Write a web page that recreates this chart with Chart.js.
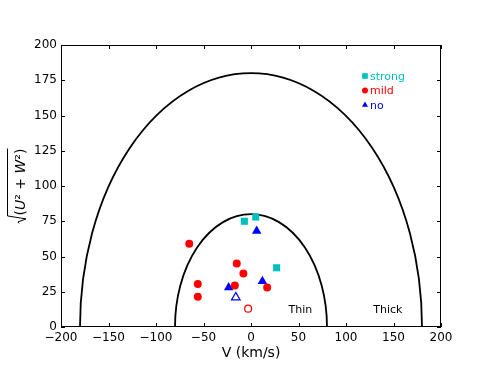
<!DOCTYPE html>
<html>
<head>
<meta charset="utf-8">
<script src="https://cdn.jsdelivr.net/npm/chart.js@4.4.0/dist/chart.umd.min.js"></script>
<style>
    html, body { margin: 0; padding: 0; background: #fff; }
</style>
</head>
<body>
<canvas id="toomreChart" width="490" height="368"></canvas>
<script>
// Values: V (km/s) against sqrt(U^2 + W^2)
const strongV = [-7, 5, 27];
const strongR = [75, 78, 42];

const mildV = [-65, -15, -8, -56, -56, -17, 17];
const mildR = [59, 45, 38, 30.5, 21.5, 29.5, 28];
const mildOpenV = [-3];
const mildOpenR = [13];

const noV = [6, -23.5, 12];
const noR = [68, 28, 32.5];
const noOpenV = [-16];
const noOpenR = [21];

// Thin / thick disc boundaries (total velocity, km/s)
const boundaryRadii = [80, 180];
const regionLabels = ['Thin', 'Thick'];
const regionLabelV = [52, 144];
const regionLabelR = [12, 12];

const xTickValues = [-200, -150, -100, -50, 0, 50, 100, 150, 200];
const yTickValues = [0, 25, 50, 75, 100, 125, 150, 175, 200];

const FONT = '"DejaVu Sans", sans-serif';

function toPoints(xs, ys) {
    return xs.map((v, i) => ({ x: v, y: ys[i] }));
}

// matplotlib style minus sign
function fmtTick(v) {
    return v < 0 ? '\u2212' + Math.abs(v) : String(v);
}

/**
 * Plugin: draws the boundary curves, the box with inward ticks,
 * the small coloured legend and the sqrt(U^2+W^2) axis title
 */
const toomrePlugin = {
    id: 'toomre',
    beforeDatasetsDraw(chart) {
        const { ctx, chartArea: a, scales: { x, y } } = chart;
        ctx.save();
        ctx.beginPath();
        ctx.rect(a.left, a.top, a.width, a.height);
        ctx.clip();

        const cx = x.getPixelForValue(0);
        const cy = y.getPixelForValue(0);
        ctx.strokeStyle = '#000';
        ctx.lineWidth = 1.8;
        boundaryRadii.forEach(r => {
            const rx = x.getPixelForValue(r) - cx;
            const ry = cy - y.getPixelForValue(r);
            ctx.beginPath();
            ctx.ellipse(cx, cy, rx, ry, 0, Math.PI, 2 * Math.PI);
            ctx.stroke();
        });

        ctx.fillStyle = '#000';
        ctx.font = '11px ' + FONT;
        ctx.textAlign = 'center';
        ctx.textBaseline = 'middle';
        regionLabels.forEach((t, i) => {
            ctx.fillText(t, x.getPixelForValue(regionLabelV[i]), y.getPixelForValue(regionLabelR[i]));
        });
        ctx.restore();
    },
    afterDraw(chart) {
        const { ctx, chartArea: a, scales: { x, y } } = chart;
        ctx.save();

        // box
        ctx.strokeStyle = '#000';
        ctx.lineWidth = 1;
        ctx.strokeRect(a.left + 0.5, a.top + 0.5, a.width - 1, a.height - 1);

        // inward ticks on all four sides
        const tl = 4;
        ctx.beginPath();
        xTickValues.forEach(v => {
            const px = Math.round(x.getPixelForValue(v)) + 0.5;
            ctx.moveTo(px, a.bottom); ctx.lineTo(px, a.bottom - tl);
            ctx.moveTo(px, a.top); ctx.lineTo(px, a.top + tl);
        });
        yTickValues.forEach(v => {
            const py = Math.round(y.getPixelForValue(v)) + 0.5;
            ctx.moveTo(a.left, py); ctx.lineTo(a.left + tl, py);
            ctx.moveTo(a.right, py); ctx.lineTo(a.right - tl, py);
        });
        ctx.stroke();

        // legend: marker + coloured text, top right of the plot
        ctx.font = '11px ' + FONT;
        ctx.textAlign = 'left';
        ctx.textBaseline = 'middle';
        const legendSets = chart.data.datasets.filter(d => d.inLegend);
        legendSets.forEach((d, i) => {
            const mx = a.right - 76;
            const my = a.top + 31 + i * 14.5;
            ctx.fillStyle = d.borderColor;
            ctx.strokeStyle = d.borderColor;
            Chart.helpers.drawPoint(ctx, {
                pointStyle: d.pointStyle,
                radius: d.pointStyle === 'triangle' ? 3.5 : (d.pointStyle === 'rect' ? 4 : 3),
                borderWidth: 0
            }, mx, my);
            ctx.fillStyle = d.borderColor;
            ctx.fillText(d.label, mx + 5, my + 1);
        });

        // y axis title: sqrt((U^2 + W^2)), drawn rotated
        ctx.translate(22, (a.top + a.bottom) / 2);
        ctx.rotate(-Math.PI / 2);
        ctx.fillStyle = '#000';
        ctx.strokeStyle = '#000';
        ctx.textBaseline = 'alphabetic';
        const parts = [
            ['(', 'normal'], ['U', 'italic'], ['\u00b2', 'normal'], [' + ', 'normal'],
            ['W', 'italic'], ['\u00b2', 'normal'], [')', 'normal']
        ];
        const fs = 14;
        let w = 0;
        parts.forEach(p => { ctx.font = p[1] + ' ' + fs + 'px ' + FONT; w += ctx.measureText(p[0]).width; });
        const rw = 8;
        const base = 3;
        const top = -14.5;
        let px = -(w + rw) / 2 + rw;
        // radical sign + overline
        ctx.lineWidth = 1;
        ctx.beginPath();
        ctx.moveTo(px - 8, base - 6);
        ctx.lineTo(px - 6.5, base - 7);
        ctx.lineTo(px - 3.5, base + 1);
        ctx.lineTo(px - 0.5, top);
        ctx.lineTo(px + w, top);
        ctx.stroke();
        parts.forEach(p => {
            ctx.font = p[1] + ' ' + fs + 'px ' + FONT;
            ctx.fillText(p[0], px, base);
            px += ctx.measureText(p[0]).width;
        });
        ctx.restore();
    }
};

const ctx = document.getElementById('toomreChart').getContext('2d');

new Chart(ctx, {
    type: 'scatter',
    data: {
        datasets: [
            {
                label: 'strong', inLegend: true,
                data: toPoints(strongV, strongR),
                pointStyle: 'rect', pointRadius: 5,
                backgroundColor: '#00bfbf', borderColor: '#00bfbf', borderWidth: 0
            },
            {
                label: 'mild', inLegend: true,
                data: toPoints(mildV, mildR),
                pointStyle: 'circle', pointRadius: 4,
                backgroundColor: '#ff0000', borderColor: '#ff0000', borderWidth: 0
            },
            {
                label: 'mild (open)',
                data: toPoints(mildOpenV, mildOpenR),
                pointStyle: 'circle', pointRadius: 3.5,
                backgroundColor: '#ffffff', borderColor: '#ff0000', borderWidth: 1.2
            },
            {
                label: 'no', inLegend: true,
                data: toPoints(noV, noR),
                pointStyle: 'triangle', pointRadius: 5.5,
                backgroundColor: '#0000ff', borderColor: '#0000ff', borderWidth: 0
            },
            {
                label: 'no (open)',
                data: toPoints(noOpenV, noOpenR),
                pointStyle: 'triangle', pointRadius: 5,
                backgroundColor: '#ffffff', borderColor: '#0000ff', borderWidth: 1.2
            }
        ]
    },
    options: {
        responsive: false,
        animation: false,
        devicePixelRatio: 1,
        layout: { padding: { top: 45, right: 49, left: 0, bottom: 0 } },
        plugins: {
            legend: { display: false },
            tooltip: { enabled: false }
        },
        scales: {
            x: {
                type: 'linear', min: -200, max: 200,
                grid: { display: false, drawTicks: false },
                border: { display: false },
                afterBuildTicks: s => { s.ticks = xTickValues.map(v => ({ value: v })); },
                afterFit: s => { s.height = 41; },
                ticks: {
                    color: '#000', padding: 4, maxRotation: 0, autoSkip: false,
                    font: { family: FONT, size: 12 },
                    callback: fmtTick
                },
                title: {
                    display: true, text: 'V (km/s)', color: '#000',
                    font: { family: FONT, size: 14 },
                    padding: { top: 0, bottom: 6 }
                }
            },
            y: {
                type: 'linear', min: 0, max: 200,
                grid: { display: false, drawTicks: false },
                border: { display: false },
                afterBuildTicks: s => { s.ticks = yTickValues.map(v => ({ value: v })); },
                afterFit: s => { s.width = 61; },
                ticks: {
                    color: '#000', padding: 4, autoSkip: false,
                    font: { family: FONT, size: 12 },
                    callback: fmtTick
                }
            }
        }
    },
    plugins: [toomrePlugin]
});
</script>
</body>
</html>
